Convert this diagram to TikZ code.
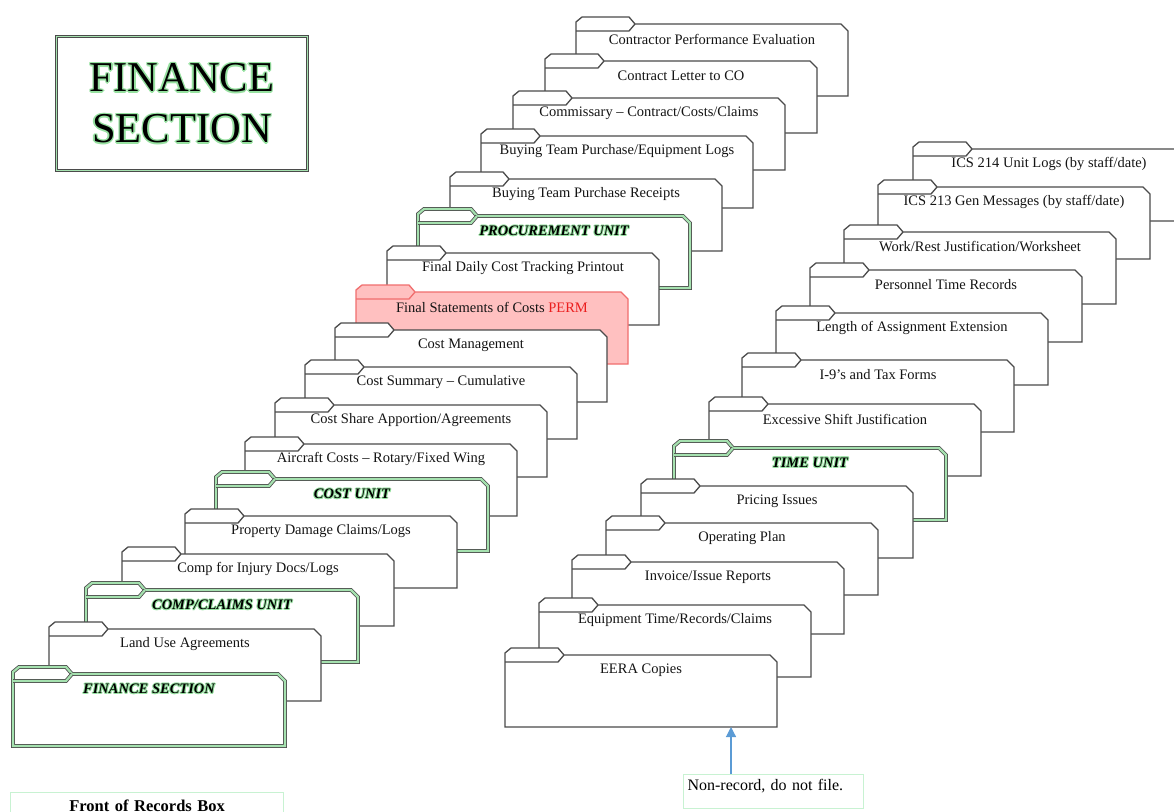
\documentclass[tikz,border=0pt]{standalone}
\usepackage{fontspec}
\setmainfont{Liberation Serif}
\usetikzlibrary{arrows.meta}
\definecolor{fgray}{RGB}{75,75,75}
\definecolor{fgreen}{RGB}{165,225,175}
\definecolor{glowg}{RGB}{150,225,160}
\definecolor{pinkfill}{RGB}{255,192,192}
\definecolor{pinkline}{RGB}{240,110,110}
\definecolor{permred}{RGB}{235,30,30}
\definecolor{paleg}{RGB}{200,242,210}
\definecolor{arrowblue}{RGB}{91,155,213}
\newdimen\glwd
\newcommand\glw[2][1pt]{\leavevmode\begingroup
 \setbox0=\hbox{#2}\glwd=#1\relax
 \rlap{\color{glowg}\kern\glwd\copy0}%
 \rlap{\color{glowg}\kern-\glwd\copy0}%
 \rlap{\color{glowg}\raise\glwd\copy0}%
 \rlap{\color{glowg}\lower\glwd\copy0}%
 \rlap{\color{glowg}\kern.7\glwd\raise.7\glwd\copy0}%
 \rlap{\color{glowg}\kern-.7\glwd\raise.7\glwd\copy0}%
 \rlap{\color{glowg}\kern.7\glwd\lower.7\glwd\copy0}%
 \rlap{\color{glowg}\kern-.7\glwd\lower.7\glwd\copy0}%
 {\color{black}\box0}\endgroup}
\newcommand\unitlabel[1]{\glw{\bfseries\itshape #1}}
% #1 name, #2 style, #3 left x, #4 tab top y, #5 text
\newcommand\folder[5]{%
 \path[#2] (#3,#4+79) -- (#3,#4+5) -- (#3+6,#4) -- (#3+53,#4) -- (#3+59,#4+7)
   -- (#3+265,#4+7) -- (#3+272,#4+14) -- (#3+272,#4+79) -- cycle;
 \path[#2,fill=none] (#3+59,#4+7) -- (#3+53,#4+14) -- (#3,#4+14);
 \node[foldertext] (#1) at (#3+136,#4+22) {#5};
 \coordinate (#1-b) at (#3+226,#4+79);
}
\begin{document}
\begin{tikzpicture}[x=1pt,y=-1pt,line join=miter,
 plainfolder/.style={draw=fgray,line width=1.3pt,fill=white},
 greenfolder/.style={draw=fgray,line width=0.8pt,double=fgreen,double distance=2.2pt,fill=white},
 redfolder/.style={draw=pinkline,line width=1.3pt,fill=pinkfill},
 foldertext/.style={font=\fontsize{14.5}{17}\selectfont,text=black!92,inner sep=0pt},
 titlebox/.style={draw=fgray,line width=0.7pt,double=fgreen,double distance=1.8pt,
   minimum width=251pt,minimum height=134pt,align=center,inner sep=0pt,
   font=\fontsize{42.5}{51}\selectfont},
 notebox/.style={draw=paleg,line width=1.2pt,font=\fontsize{16}{19}\selectfont,
   text width=172pt,align=left,inner xsep=4pt,inner ysep=3pt,text height=13pt,text depth=15pt},
 frontbox/.style={draw=paleg,line width=1.2pt,font=\fontsize{16.5}{19}\selectfont\bfseries,
   text width=265pt,align=center,inner xsep=4pt,inner ysep=6pt,text height=12.5pt,text depth=20pt},
 bluearrow/.style={draw=arrowblue,line width=1.2pt,-{Triangle[width=10pt,length=10pt]}}
]
\useasboundingbox (0,0) rectangle (1174,811);
\fill[white] (0,0) rectangle (1174,811);

\node[titlebox] (title) at (182,103.5) {\glw[1.4pt]{FINANCE}\\\glw[1.4pt]{SECTION}};

% left stack
\folder{l1}{plainfolder}{576}{17}{Contractor Performance Evaluation}
\folder{l2}{plainfolder}{545}{54}{Contract Letter to CO}
\folder{l3}{plainfolder}{513}{91}{Commissary – Contract/Costs/Claims}
\folder{l4}{plainfolder}{481}{129}{Buying Team Purchase/Equipment Logs}
\folder{l5}{plainfolder}{450}{172}{Buying Team Purchase Receipts}
\folder{l6}{greenfolder}{418}{209}{\unitlabel{PROCUREMENT UNIT}}
\folder{l7}{plainfolder}{387}{246}{Final Daily Cost Tracking Printout}
\folder{l8}{redfolder}{356}{285}{Final Statements of Costs \textcolor{permred}{PERM}}
\folder{l9}{plainfolder}{335}{323}{Cost Management}
\folder{l10}{plainfolder}{305}{360}{Cost Summary – Cumulative}
\folder{l11}{plainfolder}{275}{398}{Cost Share Apportion/Agreements}
\folder{l12}{plainfolder}{245}{437}{Aircraft Costs – Rotary/Fixed Wing}
\folder{l13}{greenfolder}{216}{472}{\unitlabel{COST UNIT}}
\folder{l14}{plainfolder}{185}{509}{Property Damage Claims/Logs}
\folder{l15}{plainfolder}{122}{547}{Comp for Injury Docs/Logs}
\folder{l16}{greenfolder}{86}{583}{\unitlabel{COMP/CLAIMS UNIT}}
\folder{l17}{plainfolder}{49}{622}{Land Use Agreements}
\folder{l18}{greenfolder}{13}{667}{\unitlabel{FINANCE SECTION}}

% right stack
\folder{r1}{plainfolder}{913}{142}{ICS 214 Unit Logs (by staff/date)}
\folder{r2}{plainfolder}{878}{180}{ICS 213 Gen Messages (by staff/date)}
\folder{r3}{plainfolder}{844}{225}{Work/Rest Justification/Worksheet}
\folder{r4}{plainfolder}{810}{263}{Personnel Time Records}
\folder{r5}{plainfolder}{776}{306}{Length of Assignment Extension}
\folder{r6}{plainfolder}{742}{353}{I-9’s and Tax Forms}
\folder{r7}{plainfolder}{709}{397}{Excessive Shift Justification}
\folder{r8}{greenfolder}{674}{441}{\unitlabel{TIME UNIT}}
\folder{r9}{plainfolder}{641}{479}{Pricing Issues}
\folder{r10}{plainfolder}{606}{516}{Operating Plan}
\folder{r11}{plainfolder}{572}{555}{Invoice/Issue Reports}
\folder{r12}{plainfolder}{539}{598}{Equipment Time/Records/Claims}
\folder{r13}{plainfolder}{505}{648}{EERA Copies}

\node[notebox,anchor=north west] (nonrec) at (683,774) {Non-record, do not file.};
\draw[bluearrow] (nonrec.north -| r13-b) -- (r13-b);

\node[frontbox,anchor=north west] (front) at (10,792) {Front of Records Box};
\end{tikzpicture}
\end{document}
